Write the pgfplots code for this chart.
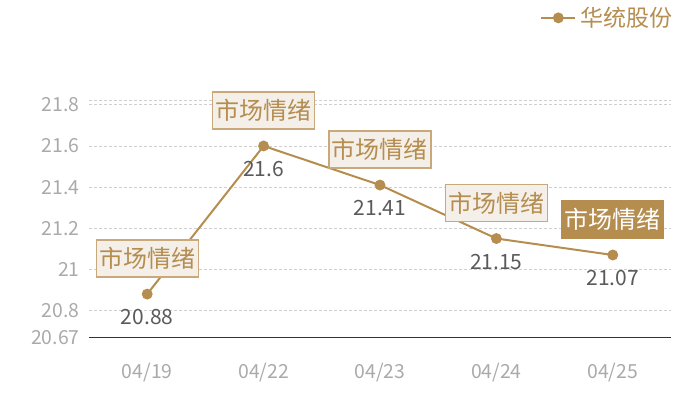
\documentclass[border=0pt]{standalone}
\usepackage{pgfplots}
\pgfplotsset{compat=1.18}
\usepackage{fontspec}
\setmainfont{Noto Sans CJK SC}
\definecolor{tan}{HTML}{B58D4F}
\definecolor{boxfill}{HTML}{F4EFE8}
\definecolor{boxdraw}{HTML}{C9A87A}
\definecolor{ticklab}{HTML}{AAAAAA}
\definecolor{vallab}{HTML}{5A5A5A}
\definecolor{gridc}{HTML}{D0D0D0}
\begin{document}
\begin{tikzpicture}
\begin{axis}[
  scale only axis,
  width=291pt, height=118.3pt,
  xmin=-0.5, xmax=4.5,
  ymin=20.67, ymax=21.82,
  xtick={0,1,2,3,4},
  xticklabels={04/19,04/22,04/23,04/24,04/25},
  ytick={20.67,20.8,21,21.2,21.4,21.6,21.8},
  yticklabels={20.67,20.8,21,21.2,21.4,21.6,21.8},
  extra y ticks={21.82},
  extra y tick labels={},
  extra y tick style={grid=major, major grid style={gridc, dash pattern=on 1.5pt off 1pt, line width=0.4pt}},
  /pgf/number format/assume math mode=true,
  major tick length=0pt,
  ymajorgrids,
  major grid style={gridc, dash pattern=on 1.5pt off 1pt, line width=0.4pt},
  axis x line*=bottom,
  axis y line*=left,
  x axis line style={draw=black!80, line width=0.6pt, -},
  y axis line style={draw=none},
  ticklabel style={font=\fontsize{9.7pt}{10pt}\selectfont, text=ticklab},
  yticklabel style={inner sep=0pt, anchor=east, xshift=-4.5pt},
  xticklabel style={inner sep=0pt, anchor=center, yshift=-17.5pt},
  clip=false,
  legend style={at={(axis description cs:1.01,1.35)}, anchor=east, draw=none, fill=none,
    font=\fontsize{11.5pt}{12pt}\selectfont, text=tan, inner sep=0pt},
  nodes near coords,
  point meta=explicit symbolic,
  every node near coord/.style={anchor=center, yshift=-11.5pt, text=vallab, font=\fontsize{10.5pt}{11pt}\selectfont},
]
\addplot[tan, line width=1pt, mark=*, mark size=2.2pt, mark options={fill=tan, draw=tan}]
  coordinates {(0,20.88) [20.88] (1,21.6) [21.6] (2,21.41) [21.41] (3,21.15) [21.15] (4,21.07) [21.07]};
\addlegendentry{华统股份}
\tikzset{ann/.style={draw=boxdraw, fill=boxfill, text=tan, line width=0.6pt,
  font=\fontsize{12pt}{12pt}\selectfont, inner xsep=1.5pt, inner ysep=0pt, minimum height=18.5pt, yshift=17.75pt}}
\node[ann] at (axis cs:0,20.88) {市场情绪};
\node[ann] at (axis cs:1,21.6) {市场情绪};
\node[ann] at (axis cs:2,21.41) {市场情绪};
\node[ann] at (axis cs:3,21.15) {市场情绪};
\node[ann, fill=tan, draw=tan, text=white] at (axis cs:4,21.07) {市场情绪};
\end{axis}
\pgfresetboundingbox
\path[use as bounding box] ([xshift=-44.5pt, yshift=-31.35pt]current axis.south west) rectangle ++(350pt,200pt);
\end{tikzpicture}
\end{document}
